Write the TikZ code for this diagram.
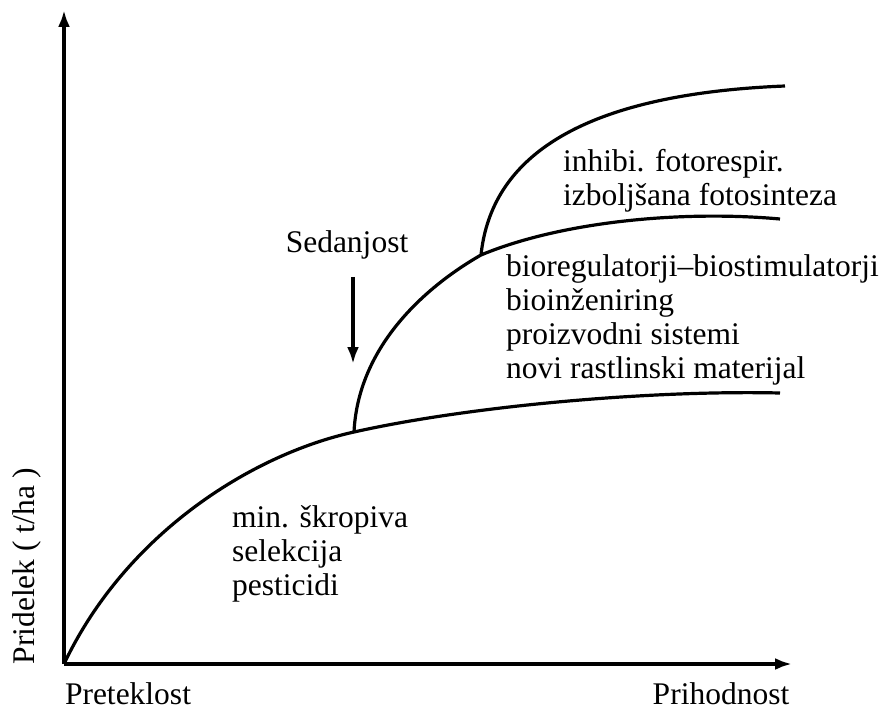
\documentclass[tikz,border=0pt]{standalone}
\usepackage{fontspec}
\setmainfont{Liberation Serif}
\usepackage{tikz}
\usetikzlibrary{arrows.meta,positioning}

\begin{document}
\begin{tikzpicture}[
    x=1pt, y=-1pt,
    axis/.style={-{Latex[length=17pt,width=12pt]}, line width=3.6pt},
    curve/.style={line width=3.2pt},
    label/.style={font=\fontsize{31.5}{34}\selectfont, align=left, inner sep=0pt},
    marker/.style={-{Latex[length=17pt,width=12pt]}, line width=3.4pt}
]
    \useasboundingbox (0,0) rectangle (886,711);

    % Axes
    \coordinate (origin) at (64,664);
    \coordinate (ytip) at (64,10);
    \coordinate (xtip) at (792,664);
    \draw[axis] (origin) -- (ytip);
    \draw[axis] (origin) -- (xtip);

    % Axis labels
    \node[label] (past) at (128,694) {Preteklost};
    \node[label] (future) at (721,694) {Prihodnost};
    \node[label, rotate=90] (yield) at (27,566) {Pridelek ( t/ha )};

    % Branch points and curve ends
    \coordinate (split1) at (354,432);
    \coordinate (split2) at (481,255);
    \coordinate (end1) at (780,393);
    \coordinate (end2) at (780,219);
    \coordinate (end3) at (785,86);

    % Curves
    \draw[curve] (origin) .. controls (125,535) and (250,455) .. (split1)
                          .. controls (470,406) and (650,390) .. (end1);
    \draw[curve] (split1) .. controls (358,350) and (420,290) .. (split2)
                          .. controls (560,222) and (680,210) .. (end2);
    \draw[curve] (split2) .. controls (490,170) and (560,95) .. (end3);

    % Present marker
    \node[label] (now) at (347,245) {Sedanjost};
    \coordinate (nowtop) at (353,277);
    \coordinate (nowtip) at (353,364);
    \draw[marker] (nowtop) -- (nowtip);

    % Curve labels
    \node[label, anchor=west] (photo) at (563,181) {inhibi. fotorespir.\\izboljšana fotosinteza};
    \node[label, anchor=west] (bio) at (506,320) {bioregulatorji–biostimulatorji\\bioinženiring\\proizvodni sistemi\\novi rastlinski materijal};
    \node[label, anchor=west] (pest) at (232,554) {min. škropiva\\selekcija\\pesticidi};
\end{tikzpicture}
\end{document}
